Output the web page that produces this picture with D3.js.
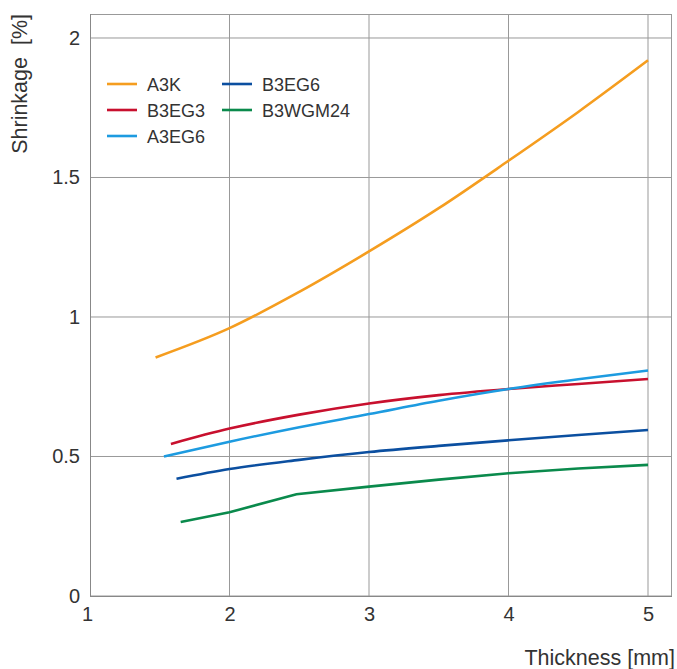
<!DOCTYPE html>
<html><head><meta charset="utf-8">
<script src="https://cdn.jsdelivr.net/npm/d3@7"></script>
<style>body{margin:0;background:#fff}</style>
</head><body><svg id="c" width="677" height="669"></svg>
<script>
const seriesNames = ["A3K","B3EG3","A3EG6","B3EG6","B3WGM24"];
const colors = ["#f59d1f","#c8102e","#1d9be0","#0b4fa0","#0a8a4c"];
const A3K = [[1.47,0.855],[2,0.96],[2.5,1.09],[3,1.235],[3.5,1.39],[4,1.56],[4.5,1.735],[5,1.92]];
const B3EG3 = [[1.58,0.545],[2,0.6],[2.5,0.65],[3,0.69],[3.5,0.72],[4,0.742],[4.5,0.76],[5,0.778]];
const A3EG6 = [[1.53,0.5],[2,0.553],[2.5,0.605],[3,0.652],[3.5,0.7],[4,0.742],[4.5,0.777],[5,0.808]];
const B3EG6 = [[1.62,0.42],[2,0.455],[2.5,0.488],[3,0.516],[3.5,0.538],[4,0.558],[4.5,0.577],[5,0.595]];
const B3WGM24 = [[1.65,0.265],[2,0.3],[2.48,0.365],[3,0.392],[3.5,0.417],[4,0.44],[4.5,0.457],[5,0.47]];
const data = [A3K,B3EG3,A3EG6,B3EG6,B3WGM24];
const xTicks = [1,2,3,4,5];
const yTicks = [0,0.5,1,1.5,2];

const svg = d3.select("#c");
const font = "Liberation Sans, Arial, sans-serif";
const x = d3.scaleLinear().domain([1,5.172]).range([90,672]);
const y = d3.scaleLinear().domain([0,2.086]).range([596,14]);

const g = svg.append("g");
g.selectAll(".vx").data(xTicks.slice(1)).join("line")
  .attr("x1",d=>x(d)).attr("x2",d=>x(d)).attr("y1",14).attr("y2",596)
  .attr("stroke","#999").attr("stroke-width",1);
g.selectAll(".hy").data(yTicks.slice(1)).join("line")
  .attr("x1",90).attr("x2",672).attr("y1",d=>y(d)).attr("y2",d=>y(d))
  .attr("stroke","#999").attr("stroke-width",1);
g.append("rect").attr("x",90.5).attr("y",14.5).attr("width",581).attr("height",581.5)
  .attr("fill","none").attr("stroke","#999").attr("stroke-width",1);
g.append("line").attr("x1",90.5).attr("x2",90.5).attr("y1",14).attr("y2",596).attr("stroke","#888");
g.append("line").attr("x1",90).attr("x2",672).attr("y1",596.5).attr("y2",596.5).attr("stroke","#888");

const xAxis = d3.axisBottom(x).tickValues(xTicks).tickSize(0).tickPadding(11).tickFormat(d3.format("d"));
const ax = svg.append("g").attr("transform","translate(0,596)").call(xAxis);
ax.select(".domain").remove();
ax.selectAll("text").attr("font-family",font).attr("font-size",20).attr("fill","#333");
ax.selectAll(".tick").filter(d=>d===1).select("text").attr("dx",-3);
const yAxis = d3.axisLeft(y).tickValues(yTicks).tickSize(0).tickPadding(10).tickFormat(d=>String(d));
const ay = svg.append("g").attr("transform","translate(90,0)").call(yAxis);
ay.select(".domain").remove();
ay.selectAll("text").attr("font-family",font).attr("font-size",20).attr("fill","#333");

svg.append("text").attr("transform","translate(27,14) rotate(-90)").attr("text-anchor","end")
  .attr("font-family",font).attr("font-size",21.5).attr("fill","#333")
  .attr("xml:space","preserve").style("white-space","pre").text("Shrinkage  [%]");
svg.append("text").attr("x",675).attr("y",665).attr("text-anchor","end")
  .attr("font-family",font).attr("font-size",21.5).attr("fill","#333").text("Thickness [mm]");

data.forEach((d,i)=>{
  const line = d3.line().x(p=>x(p[0])).y(p=>y(p[1]))
    .curve(i===4 ? d3.curveLinear : d3.curveMonotoneX);
  svg.append("path").datum(d).attr("d",line).attr("fill","none")
    .attr("stroke",colors[i]).attr("stroke-width",2.6);
});

const legPos = [[107,84],[107,110],[107,136],[222,84],[222,110]];
seriesNames.forEach((n,i)=>{
  const [lx,ly] = legPos[i];
  svg.append("line").attr("x1",lx).attr("x2",lx+30).attr("y1",ly).attr("y2",ly)
    .attr("stroke",colors[i]).attr("stroke-width",2.6);
  svg.append("text").attr("x",lx+40).attr("y",ly+6.5).attr("font-family",font)
    .attr("font-size",18).attr("fill","#333").text(n);
});
</script></body></html>
